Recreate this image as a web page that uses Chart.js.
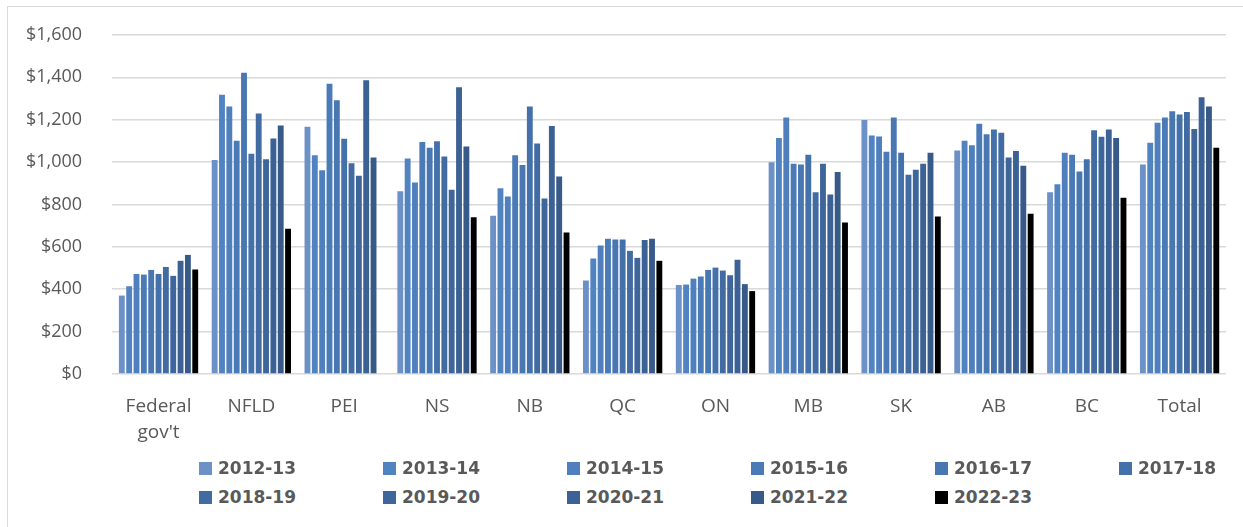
<!DOCTYPE html>
<html>
<head>
<meta charset="utf-8">
<script src="https://cdn.jsdelivr.net/npm/chart.js@4.4.1/dist/chart.umd.min.js"></script>
<style>
    html, body { margin: 0; padding: 0; background: #fff; }
    body { width: 1243px; height: 527px; position: relative; overflow: hidden; }
    .frame { position: absolute; left: 7px; top: 6px; width: 1300px; height: 600px;
             border-left: 1px solid #d9d9d9; border-top: 1px solid #d9d9d9; }
    .chart-box { position: absolute; left: -4px; top: 0; width: 1247px; height: 471px; }
    #legend { position: absolute; left: 0; top: 452px; width: 1243px; margin: 0; padding: 0; list-style: none; }
    #legend li { position: absolute; height: 20px; display: flex; align-items: center;
                 font-family: "DejaVu Sans", sans-serif; font-weight: bold; font-size: 17px; color: #595959; white-space: nowrap; }
    #legend .swatch { width: 13px; height: 13px; margin-right: 6px; display: inline-block; }
</style>
</head>
<body>
<div class="frame"></div>
<div class="chart-box"><canvas id="spendChart"></canvas></div>
<ul id="legend"></ul>

<script>
// categories (x axis)
const jurisdictions = [['Federal', "gov't"], 'NFLD', 'PEI', 'NS', 'NB', 'QC', 'ON', 'MB', 'SK', 'AB', 'BC', 'Total'];

// fiscal years (series)
const years = ['2012-13', '2013-14', '2014-15', '2015-16', '2016-17', '2017-18',
               '2018-19', '2019-20', '2020-21', '2021-22', '2022-23'];

// values per jurisdiction, in year order
const federal = [370, 414, 472, 469, 491, 472, 505, 463, 534, 562, 493];
const nfld    = [1010, 1318, 1263, 1101, 1422, 1040, 1230, 1013, 1112, 1173, 685];
const pei     = [1167, 1032, 961, 1370, 1292, 1110, 995, 936, 1386, 1022, null];
const ns      = [862, 1017, 904, 1095, 1068, 1098, 1027, 869, 1353, 1074, 740];
const nb      = [747, 877, 838, 1032, 986, 1262, 1088, 828, 1170, 932, 668];
const qc      = [441, 545, 606, 638, 635, 635, 581, 548, 632, 638, 534];
const on      = [420, 422, 450, 460, 491, 502, 488, 466, 539, 424, 391];
const mb      = [999, 1114, 1210, 992, 989, 1035, 858, 992, 847, 953, 715];
const sk      = [1199, 1126, 1121, 1049, 1210, 1044, 940, 964, 992, 1044, 743];
const ab      = [1055, 1101, 1079, 1181, 1131, 1154, 1139, 1022, 1052, 983, 756];
const bc      = [858, 895, 1044, 1035, 956, 1013, 1150, 1120, 1154, 1114, 832];
const total   = [989, 1091, 1186, 1210, 1240, 1225, 1236, 1156, 1306, 1263, 1068];

const yTicks = [0, 200, 400, 600, 800, 1000, 1200, 1400, 1600];

const yearColors = ['#6c91c6', '#5283c1', '#4f80bd', '#4b7bb7', '#4877b2', '#4571aa',
                    '#426ba2', '#3f669b', '#3c6194', '#375a88', '#000000'];

(function () {
    'use strict';

    const rows = [federal, nfld, pei, ns, nb, qc, on, mb, sk, ab, bc, total];

    // one dataset per year, picking that year's value out of each jurisdiction row
    const datasets = years.map((year, i) => ({
        label: year,
        data: rows.map(r => r[i]),
        backgroundColor: yearColors[i],
        borderWidth: 0,
        categoryPercentage: 0.87,
        barPercentage: 0.8
    }));

    const ctx = document.getElementById('spendChart');
    new Chart(ctx, {
        type: 'bar',
        data: { labels: jurisdictions, datasets: datasets },
        options: {
            responsive: true,
            maintainAspectRatio: false,
            animation: false,
            layout: { padding: { left: 0, right: 17, top: 35, bottom: 5 } },
            plugins: { legend: { display: false }, tooltip: { enabled: false } },
            scales: {
                x: {
                    grid: { display: false, drawTicks: false },
                    border: { display: false },
                    ticks: {
                        color: '#595959',
                        padding: 20,
                        maxRotation: 0,
                        autoSkip: false,
                        font: { family: 'Open Sans', size: 19, lineHeight: 1.37 }
                    }
                },
                y: {
                    min: yTicks[0],
                    max: yTicks[yTicks.length - 1],
                    afterBuildTicks: axis => { axis.ticks = yTicks.map(v => ({ value: v })); },
                    // tick padding would otherwise also push the top gridline down
                    afterFit: axis => { axis.paddingTop = 6; axis.paddingBottom = 6; },
                    grid: { color: '#d9d9d9', lineWidth: 1.5, drawTicks: false },
                    border: { display: false },
                    ticks: {
                        color: '#595959',
                        padding: 30,
                        font: { family: 'Open Sans', size: 18 },
                        callback: v => '$' + Number(v).toLocaleString('en-US')
                    }
                }
            }
        }
    });

    // legend laid out in the fixed columns the original uses
    const legend = document.getElementById('legend');
    years.forEach((year, i) => {
        const li = document.createElement('li');
        li.style.left = (199 + (i % 6) * 184) + 'px';
        li.style.top = (Math.floor(i / 6) * 29 + 6) + 'px';
        const sw = document.createElement('span');
        sw.className = 'swatch';
        sw.style.background = yearColors[i];
        li.appendChild(sw);
        li.appendChild(document.createTextNode(year));
        legend.appendChild(li);
    });
})();
</script>
</body>
</html>
